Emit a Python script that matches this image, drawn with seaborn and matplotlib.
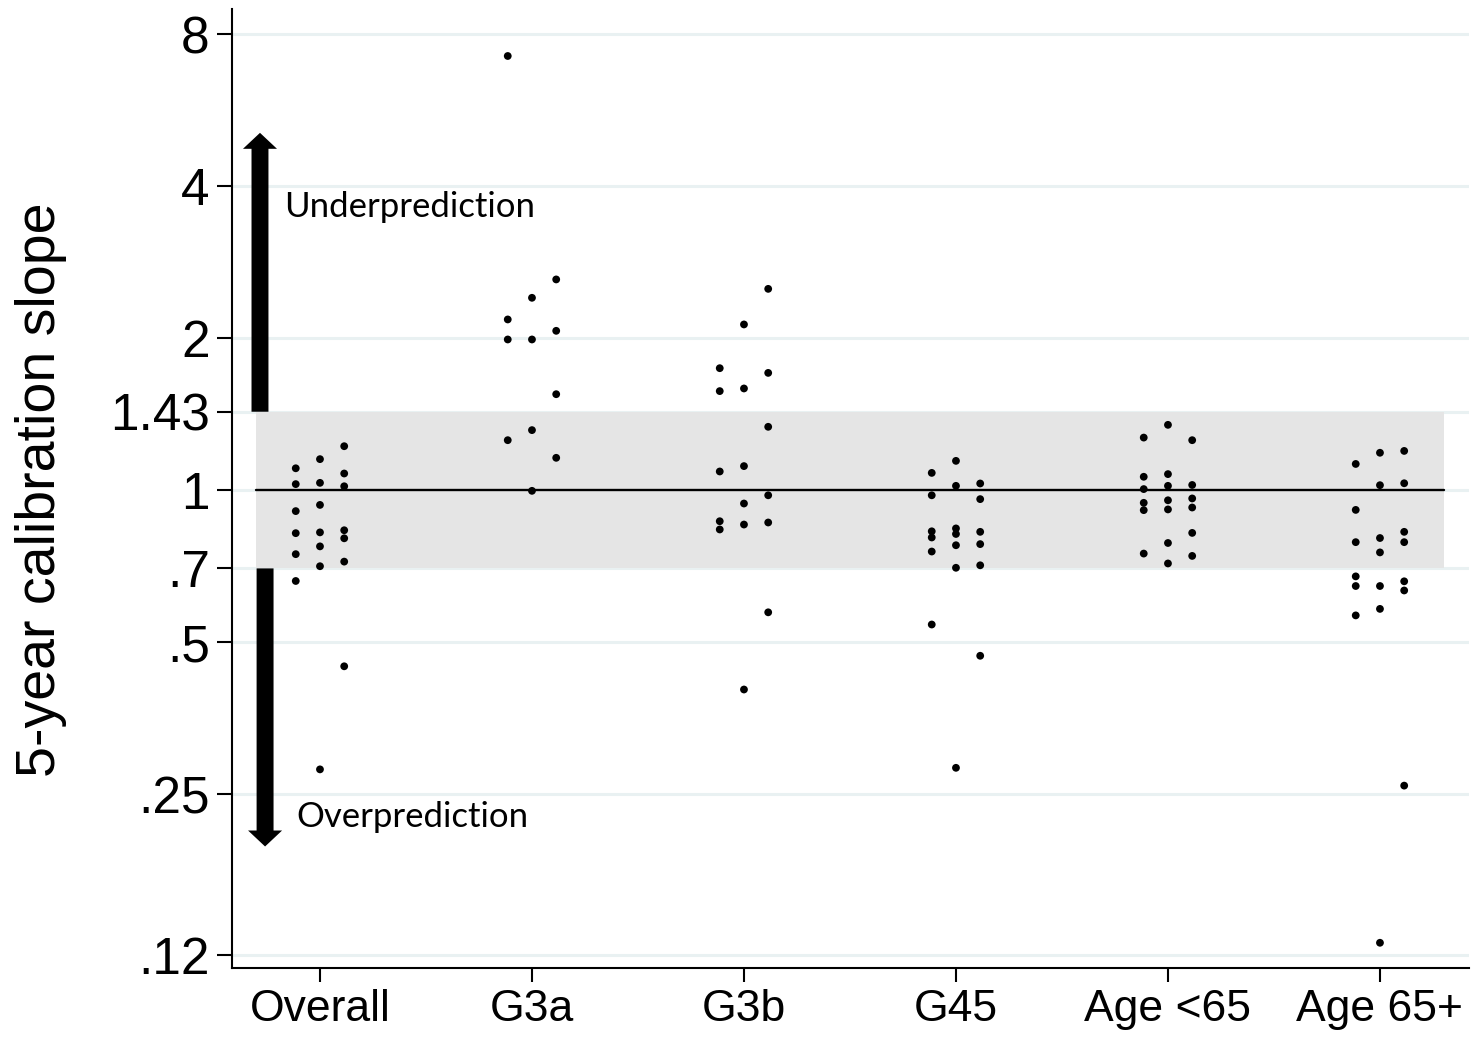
import matplotlib
matplotlib.use("Agg")
import matplotlib.pyplot as plt
import seaborn as sns
import pandas as pd
from matplotlib.patches import ArrowStyle

# ---- data ----
categories = ["Overall", "G3a", "G3b", "G45", "Age <65", "Age 65+"]
series_names = ["A", "B", "C"]

overall_a = [1.105, 1.028, 0.909, 0.822, 0.747, 0.661]
overall_b = [1.152, 1.034, 0.935, 0.825, 0.774, 0.707, 0.280]
overall_c = [1.222, 1.079, 1.018, 0.833, 0.803, 0.722, 0.448]
g3a_a = [7.24, 2.178, 1.988, 1.256]
g3a_b = [2.404, 1.988, 1.315, 0.997]
g3a_c = [2.614, 2.068, 1.549, 1.159]
g3b_a = [1.744, 1.571, 1.089, 0.868, 0.836]
g3b_b = [2.129, 1.590, 1.116, 0.941, 0.855, 0.403]
g3b_c = [2.504, 1.707, 1.335, 0.977, 0.863, 0.573]
g45_a = [1.082, 0.977, 0.829, 0.806, 0.756, 0.542]
g45_b = [1.143, 1.020, 0.840, 0.819, 0.778, 0.702, 0.282]
g45_c = [1.031, 0.960, 0.827, 0.782, 0.710, 0.470]
young_a = [1.271, 1.063, 1.005, 0.944, 0.913, 0.749]
young_b = [1.347, 1.076, 1.020, 0.955, 0.916, 0.786, 0.716]
young_c = [1.256, 1.024, 0.963, 0.924, 0.823, 0.741]
old_a = [1.127, 0.914, 0.789, 0.675, 0.646, 0.565]
old_b = [1.186, 1.023, 0.804, 0.753, 0.646, 0.582, 0.127]
old_c = [1.196, 1.032, 0.827, 0.789, 0.660, 0.633, 0.260]

band_low, band_high, reference = 0.7, 1.43, 1.0
y_ticks = [8, 4, 2, 1.43, 1, 0.7, 0.5, 0.25, 0.12]
y_tick_labels = ["8", "4", "2", "1.43", "1", ".7", ".5", ".25", ".12"]
y_label = "5-year calibration slope"
under_text = "Underprediction"
over_text = "Overprediction"

groups = {
    "Overall": [overall_a, overall_b, overall_c],
    "G3a": [g3a_a, g3a_b, g3a_c],
    "G3b": [g3b_a, g3b_b, g3b_c],
    "G45": [g45_a, g45_b, g45_c],
    "Age <65": [young_a, young_b, young_c],
    "Age 65+": [old_a, old_b, old_c],
}
rows = []
for cat in categories:
    for name, vals in zip(series_names, groups[cat]):
        for v in vals:
            rows.append({"group": cat, "series": name, "slope": v})
df = pd.DataFrame(rows)

# ---- plot ----
sns.set_style("white")
plt.rcParams["font.family"] = ["Liberation Sans", "DejaVu Sans"]
plt.rcParams["text.color"] = "black"
plt.rcParams["xtick.color"] = "black"
plt.rcParams["ytick.color"] = "black"
plt.rcParams["axes.labelcolor"] = "black"

fig = plt.figure(figsize=(14.72, 10.38), dpi=100)
ax = fig.add_axes([232 / 1472, 70 / 1038, (1469 - 232) / 1472, (968 - 9) / 1038])

hue_order = ["p1", "p2"] + series_names + ["p3", "p4"]
palette = {h: "black" for h in hue_order}
sns.stripplot(data=df, x="group", y="slope", hue="series", order=categories,
              hue_order=hue_order, palette=palette, dodge=True, jitter=False,
              size=5.6, linewidth=0, legend=False, ax=ax, zorder=4)

ax.set_yscale("log", base=2)
ax.set_ylim(0.1132, 8.97)
ax.set_xlim(-0.415, 5.42)
ax.set_yticks(y_ticks)
ax.set_yticklabels(y_tick_labels)
ax.yaxis.set_minor_locator(matplotlib.ticker.NullLocator())

ax.grid(axis="y", color="#e9f1f2", linewidth=2.2, zorder=0)
ax.grid(axis="x", visible=False)
ax.set_axisbelow(True)

ax.fill_between([-0.3, 5.3], band_low, band_high, color="#e5e5e5", zorder=1, linewidth=0)
ax.plot([-0.3, 5.3], [reference, reference], color="black", linewidth=1.7, zorder=2)

for s in ["top", "right"]:
    ax.spines[s].set_visible(False)
for s in ["left", "bottom"]:
    ax.spines[s].set_color("black")
    ax.spines[s].set_linewidth(1.5)

ax.tick_params(axis="y", which="major", left=True, length=11, width=1.5,
               labelsize=37, pad=5, color="black", labelcolor="black")
ax.tick_params(axis="x", which="major", bottom=True, length=10, width=1.5,
               labelsize=32, pad=5, color="black", labelcolor="black")
ax.set_xlabel("")
ax.set_ylabel("")

fig.text(41 / 1472, (1038 - 490) / 1038, y_label, rotation=90, ha="center",
         va="center", fontsize=40, color="black")

style = ArrowStyle.Simple(head_length=11.5, head_width=24.5, tail_width=12.2)
ax.annotate("", xy=(-0.283, 5.1), xytext=(-0.283, band_high),
            arrowprops=dict(arrowstyle=style, color="black", mutation_scale=1,
                            shrinkA=0, shrinkB=0, linewidth=0), zorder=5)
ax.annotate("", xy=(-0.259, 0.197), xytext=(-0.259, band_low),
            arrowprops=dict(arrowstyle=style, color="black", mutation_scale=1,
                            shrinkA=0, shrinkB=0, linewidth=0), zorder=5)

ax.text(-0.17, 3.48, under_text, fontsize=25, family=["Lato", "DejaVu Sans"],
        ha="left", va="baseline", color="black")
ax.text(-0.113, 0.215, over_text, fontsize=25, family=["Lato", "DejaVu Sans"],
        ha="left", va="baseline", color="black")

fig.savefig("out.png", dpi=100)
